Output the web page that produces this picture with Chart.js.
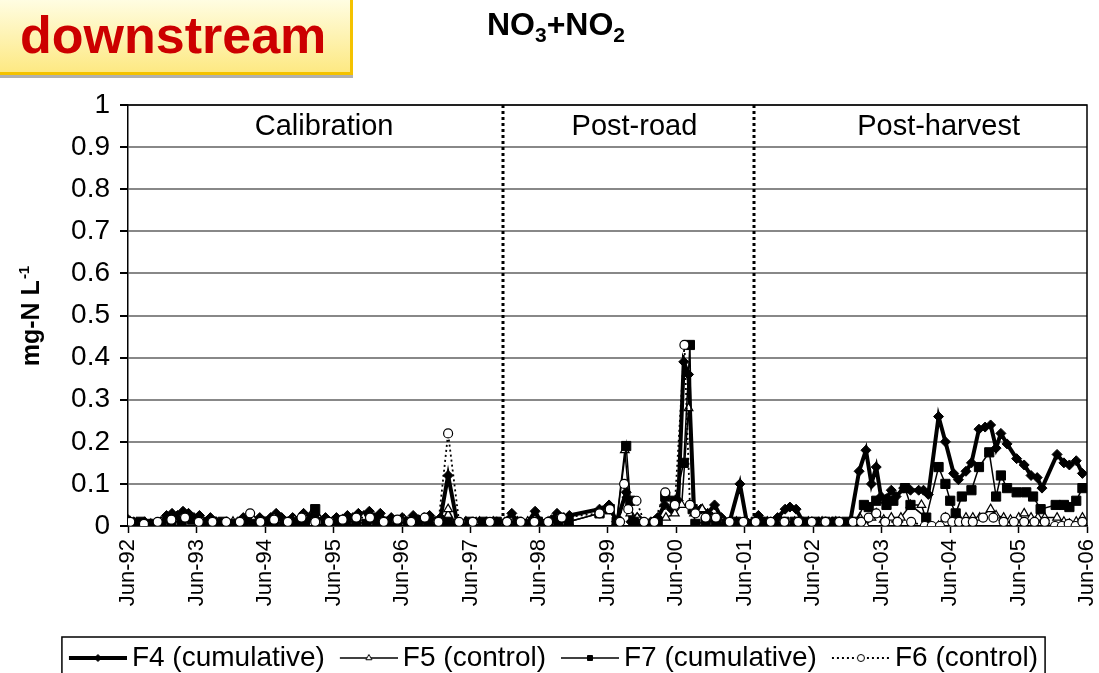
<!DOCTYPE html>
<html>
<head>
<meta charset="utf-8">
<script src="https://cdn.jsdelivr.net/npm/chart.js@4"></script>
<style>
  body { margin: 0; background: #fff; }
  #wrap { position: relative; width: 1099px; height: 673px; overflow: hidden; }
  #tag {
    position: absolute; left: 0; top: 0; width: 353px; height: 75px;
    background: linear-gradient(#fffde2, #fde983);
    border-right: 3px solid #f4c200; border-bottom: 3px solid #f4c200;
    box-shadow: 0 3px 0 #b0b0b0;
    font: bold 52px "Liberation Sans", Arial, sans-serif; color: #cc0000;
    line-height: 70px; padding-left: 20px; box-sizing: border-box;
  }
</style>
</head>
<body>
<div id="wrap">
  <canvas id="chart" width="1099" height="673"></canvas>
  <div id="tag">downstream</div>
</div>
<script>
  const FONT = "'Liberation Sans', Arial, sans-serif";

  // x is decimal year; ticks every June
  const xMin = 1992.417, xMax = 2006.417;
  const tickLabels = ['Jun-92','Jun-93','Jun-94','Jun-95','Jun-96','Jun-97','Jun-98',
                      'Jun-99','Jun-00','Jun-01','Jun-02','Jun-03','Jun-04','Jun-05','Jun-06'];
  const tickYears = tickLabels.map((_, i) => xMin + i);

  const periodBreaks = [1997.89, 2001.56];
  const periodNames = ['Calibration', 'Post-road', 'Post-harvest'];
  const periodLabelAt = [1995.28, 1999.81, 2004.25];

  const seriesNames = ['F4 (cumulative)', 'F5 (control)', 'F7 (cumulative)', 'F6 (control)'];

  const f4 = [
    [1992.42,0.015],[1992.50,0.01],[1992.58,0.005],[1992.66,0.01],[1992.74,0.005],[1992.82,0.005],[1992.90,0.01],
    [1992.98,0.025],[1993.06,0.03],[1993.14,0.025],[1993.22,0.035],[1993.30,0.03],[1993.38,0.02],[1993.46,0.025],
    [1993.54,0.01],[1993.62,0.02],[1993.70,0.01],[1993.78,0.005],[1993.86,0.01],[1993.94,0.005],[1994.02,0.01],
    [1994.10,0.02],[1994.18,0.015],[1994.26,0.01],[1994.34,0.02],[1994.42,0.01],[1994.50,0.02],[1994.58,0.03],
    [1994.66,0.02],[1994.74,0.01],[1994.82,0.02],[1994.90,0.01],[1994.98,0.03],[1995.06,0.02],[1995.14,0.025],
    [1995.22,0.01],[1995.30,0.02],[1995.38,0.005],[1995.46,0.02],[1995.54,0.01],[1995.62,0.025],[1995.70,0.02],
    [1995.78,0.03],[1995.86,0.025],[1995.94,0.035],[1996.02,0.02],[1996.10,0.03],[1996.18,0.01],[1996.26,0.02],
    [1996.34,0.01],[1996.42,0.02],[1996.50,0.01],[1996.58,0.025],[1996.66,0.015],[1996.74,0.02],[1996.82,0.025],
    [1996.90,0.01],[1996.98,0.02],[1997.09,0.12],[1997.22,0.01],[1997.35,0.01],[1997.50,0.01],[1997.65,0.01],
    [1997.80,0.01],
    [1997.92,0.01],[1998.02,0.03],[1998.10,0.01],[1998.18,0.005],[1998.26,0.01],[1998.36,0.035],[1998.44,0.01],
    [1998.52,0.005],[1998.60,0.015],[1998.68,0.03],[1998.78,0.02],[1998.86,0.025],[1999.30,0.04],[1999.44,0.05],
    [1999.55,0.01],[1999.69,0.08],[1999.76,0.01],[1999.85,0.02],[1999.95,0.005],[2000.05,0.01],[2000.15,0.02],
    [2000.25,0.05],[2000.35,0.04],[2000.45,0.06],[2000.53,0.39],[2000.60,0.36],[2000.68,0.04],[2000.78,0.04],
    [2000.88,0.03],[2000.98,0.05],[2001.08,0.02],[2001.20,0.01],[2001.35,0.10],[2001.45,0.01],[2001.55,0.01],
    [2001.62,0.025],[2001.70,0.01],[2001.80,0.01],[2001.90,0.02],[2002.01,0.04],[2002.08,0.045],[2002.17,0.04],
    [2002.27,0.01],[2002.40,0.01],[2002.50,0.01],[2002.60,0.01],[2002.70,0.01],[2002.80,0.01],[2002.96,0.01],
    [2003.09,0.13],[2003.19,0.18],[2003.27,0.10],[2003.34,0.14],[2003.41,0.07],[2003.49,0.065],[2003.56,0.085],
    [2003.63,0.07],[2003.74,0.09],[2003.84,0.085],[2003.96,0.085],[2004.03,0.085],[2004.10,0.075],[2004.25,0.26],
    [2004.35,0.20],[2004.47,0.125],[2004.54,0.11],[2004.65,0.13],[2004.73,0.15],[2004.84,0.23],[2004.93,0.235],
    [2005.01,0.24],[2005.09,0.185],[2005.16,0.22],[2005.25,0.195],[2005.39,0.16],[2005.50,0.145],[2005.60,0.12],
    [2005.69,0.115],[2005.76,0.09],[2005.98,0.17],[2006.08,0.15],[2006.16,0.145],[2006.26,0.155],[2006.35,0.125]
  ];

  const f5 = [
    [1992.45,0.01],[1992.60,0.005],[1992.75,0.005],[1992.90,0.01],[1993.05,0.015],[1993.20,0.02],[1993.35,0.015],
    [1993.50,0.01],[1993.65,0.01],[1993.80,0.005],[1993.95,0.01],[1994.10,0.01],[1994.25,0.015],[1994.40,0.01],
    [1994.55,0.02],[1994.70,0.01],[1994.85,0.015],[1995.00,0.02],[1995.12,0.035],[1995.25,0.01],[1995.40,0.01],
    [1995.55,0.015],[1995.70,0.01],[1995.85,0.02],[1996.00,0.015],[1996.15,0.01],[1996.30,0.01],[1996.45,0.015],
    [1996.60,0.01],[1996.75,0.015],[1996.90,0.01],[1997.00,0.01],[1997.09,0.04],[1997.20,0.005],[1997.35,0.01],
    [1997.55,0.01],[1997.75,0.01],
    [1997.95,0.01],[1998.10,0.01],[1998.25,0.01],[1998.40,0.005],[1998.55,0.01],[1998.70,0.02],[1998.85,0.01],
    [1999.30,0.03],[1999.45,0.035],[1999.55,0.01],[1999.67,0.18],[1999.75,0.03],[1999.85,0.02],[1999.95,0.0],
    [2000.10,0.01],[2000.27,0.02],[2000.40,0.03],[2000.50,0.05],[2000.60,0.28],[2000.68,0.03],[2000.80,0.04],
    [2000.95,0.02],[2001.10,0.01],[2001.30,0.01],[2001.45,0.01],[2001.60,0.01],
    [2001.75,0.01],[2001.95,0.01],[2002.15,0.01],[2002.35,0.01],[2002.55,0.01],[2002.75,0.01],[2002.95,0.01],
    [2003.10,0.02],[2003.19,0.0],[2003.27,0.02],[2003.34,0.03],[2003.45,0.015],[2003.56,0.02],[2003.70,0.02],
    [2003.84,0.05],[2004.00,0.05],[2004.10,0.0],[2004.25,0.0],[2004.35,0.02],[2004.47,0.02],[2004.56,0.015],
    [2004.65,0.02],[2004.75,0.02],[2004.85,0.02],[2005.01,0.04],[2005.09,0.025],[2005.20,0.02],[2005.30,0.015],
    [2005.42,0.02],[2005.50,0.03],[2005.60,0.02],[2005.70,0.02],[2005.80,0.02],[2005.98,0.02],[2006.08,0.01],
    [2006.16,0.005],[2006.26,0.01],[2006.35,0.02]
  ];

  const f7 = [
    [1992.45,0.005],[1992.60,0.01],[1992.75,0.005],[1992.90,0.005],[1993.05,0.01],[1993.20,0.01],[1993.35,0.015],
    [1993.50,0.005],[1993.65,0.01],[1993.80,0.01],[1993.95,0.005],[1994.10,0.01],[1994.25,0.005],[1994.40,0.01],
    [1994.55,0.01],[1994.70,0.005],[1994.85,0.01],[1995.00,0.01],[1995.15,0.04],[1995.30,0.01],[1995.45,0.005],
    [1995.60,0.01],[1995.75,0.01],[1995.90,0.005],[1996.05,0.01],[1996.20,0.01],[1996.35,0.005],[1996.50,0.01],
    [1996.65,0.01],[1996.80,0.005],[1996.95,0.01],[1997.09,0.01],[1997.20,0.0],[1997.40,0.01],[1997.60,0.01],
    [1997.80,0.01],
    [1997.95,0.005],[1998.10,0.01],[1998.25,0.005],[1998.40,0.01],[1998.55,0.005],[1998.70,0.01],[1998.85,0.01],
    [1999.30,0.03],[1999.45,0.04],[1999.55,0.01],[1999.69,0.19],[1999.75,0.06],[1999.80,0.01],[1999.90,0.005],
    [2000.00,0.0],[2000.15,0.01],[2000.26,0.07],[2000.40,0.06],[2000.53,0.15],[2000.62,0.43],[2000.66,0.04],
    [2000.70,0.005],[2000.85,0.01],[2001.00,0.01],[2001.15,0.005],[2001.30,0.01],[2001.45,0.005],[2001.58,0.01],
    [2001.70,0.01],[2001.85,0.005],[2002.00,0.01],[2002.15,0.01],[2002.30,0.01],[2002.45,0.01],[2002.60,0.01],
    [2002.75,0.01],[2002.90,0.01],[2003.05,0.01],[2003.16,0.05],[2003.23,0.045],[2003.34,0.06],[2003.49,0.05],
    [2003.59,0.06],[2003.76,0.09],[2003.84,0.05],[2004.07,0.02],[2004.25,0.14],[2004.35,0.10],[2004.42,0.06],
    [2004.50,0.03],[2004.59,0.07],[2004.73,0.085],[2004.84,0.14],[2004.99,0.175],[2005.09,0.07],[2005.16,0.12],
    [2005.25,0.09],[2005.39,0.08],[2005.53,0.08],[2005.63,0.07],[2005.74,0.04],[2005.96,0.05],[2006.08,0.05],
    [2006.16,0.045],[2006.26,0.06],[2006.35,0.09]
  ];

  const f6 = [
    [1992.45,0.01],[1992.65,0.005],[1992.85,0.01],[1993.05,0.015],[1993.25,0.02],[1993.45,0.01],[1993.65,0.01],
    [1993.85,0.01],[1994.05,0.01],[1994.20,0.03],[1994.35,0.01],[1994.55,0.015],[1994.75,0.01],[1994.95,0.02],
    [1995.15,0.01],[1995.35,0.01],[1995.55,0.015],[1995.75,0.02],[1995.95,0.02],[1996.15,0.01],[1996.35,0.015],
    [1996.55,0.01],[1996.75,0.02],[1996.95,0.01],[1997.09,0.22],[1997.25,0.01],[1997.45,0.01],[1997.70,0.01],
    [1997.95,0.01],[1998.15,0.01],[1998.35,0.01],[1998.55,0.01],[1998.75,0.02],[1999.30,0.03],[1999.45,0.04],
    [1999.60,0.01],[1999.66,0.10],[1999.72,0.04],[1999.84,0.06],[1999.95,0.01],[2000.10,0.01],[2000.26,0.08],
    [2000.40,0.05],[2000.54,0.43],[2000.62,0.05],[2000.70,0.03],[2000.85,0.02],[2001.00,0.02],[2001.20,0.01],
    [2001.40,0.01],[2001.58,0.01],
    [2001.80,0.01],[2002.00,0.01],[2002.20,0.01],[2002.40,0.01],[2002.60,0.01],[2002.80,0.01],[2003.00,0.01],
    [2003.12,0.01],[2003.23,0.02],[2003.34,0.03],[2003.47,0.01],[2003.65,0.01],[2003.85,0.01],[2004.05,0.0],
    [2004.15,0.0],[2004.27,0.0],[2004.35,0.02],[2004.45,0.01],[2004.55,0.01],[2004.65,0.01],[2004.75,0.01],
    [2004.90,0.02],[2005.05,0.02],[2005.20,0.01],[2005.35,0.01],[2005.50,0.01],[2005.65,0.01],[2005.80,0.01],
    [2005.95,0.0],[2006.05,0.0],[2006.15,0.005],[2006.25,0.0],[2006.35,0.01]
  ];

  const toXY = arr => arr.map(p => ({ x: p[0], y: p[1] }));

  // small canvas used as the legend symbol: line + marker
  function legendSample(ds) {
    const c = document.createElement('canvas');
    c.width = 72; c.height = 20;
    const g = c.getContext('2d');
    g.strokeStyle = '#000';
    g.lineWidth = ds.borderWidth;
    g.setLineDash(ds.borderDash || []);
    g.beginPath(); g.moveTo(14, 10); g.lineTo(72, 10); g.stroke();
    g.setLineDash([]);
    g.fillStyle = ds.pointBackgroundColor;
    g.strokeStyle = '#000';
    g.lineWidth = 1;
    Chart.helpers.drawPoint(g, { pointStyle: ds.pointStyle, radius: 3.5, borderWidth: 1, rotation: 0 }, 43, 10);
    return c;
  }

  const overlay = {
    id: 'overlay',
    beforeDatasetsDraw(chart) {
      const { ctx, chartArea: a, scales: { x } } = chart;
      ctx.save();
      ctx.strokeStyle = '#000';
      ctx.lineWidth = 3;
      ctx.setLineDash([3, 3]);
      periodBreaks.forEach(t => {
        const px = Math.round(x.getPixelForValue(t));
        ctx.beginPath(); ctx.moveTo(px, a.top); ctx.lineTo(px, a.bottom); ctx.stroke();
      });
      ctx.setLineDash([]);
      ctx.lineWidth = 1.5;
      ctx.beginPath();
      ctx.moveTo(a.left, a.top); ctx.lineTo(a.right, a.top); ctx.lineTo(a.right, a.bottom);
      ctx.stroke();
      ctx.fillStyle = '#000';
      ctx.font = '29px ' + FONT;
      ctx.textAlign = 'center';
      ctx.textBaseline = 'middle';
      periodNames.forEach((n, i) => ctx.fillText(n, x.getPixelForValue(periodLabelAt[i]), a.top + 22));
      ctx.restore();
    },
    afterDraw(chart) {
      const ctx = chart.ctx;
      ctx.save();
      ctx.fillStyle = '#000';
      ctx.textBaseline = 'alphabetic';
      ctx.textAlign = 'left';

      // title NO3+NO2 with subscripts
      const big = 'bold 32px ' + FONT, small = 'bold 21px ' + FONT;
      const parts = [['NO', big, 0], ['3', small, 7], ['+NO', big, 0], ['2', small, 7]];
      let total = 0;
      parts.forEach(p => { ctx.font = p[1]; total += ctx.measureText(p[0]).width; });
      let cx = 556 - total / 2;
      parts.forEach(p => { ctx.font = p[1]; ctx.fillText(p[0], cx, 35 + p[2]); cx += ctx.measureText(p[0]).width; });

      // y axis title, rotated
      ctx.translate(39, 316);
      ctx.rotate(-Math.PI / 2);
      const mainFont = 'bold 25px ' + FONT, supFont = 'bold 15px ' + FONT;
      ctx.font = mainFont; const w1 = ctx.measureText('mg-N L').width;
      ctx.font = supFont; const w2 = ctx.measureText('-1').width;
      let sx = -(w1 + w2 + 1) / 2;
      ctx.font = mainFont; ctx.fillText('mg-N L', sx, 0);
      ctx.font = supFont; ctx.fillText('-1', sx + w1 + 1, -10);
      ctx.setTransform(1, 0, 0, 1, 0, 0);

      // legend frame
      const boxes = chart.legend.legendHitBoxes;
      if (boxes && boxes.length) {
        const first = boxes[0], last = boxes[boxes.length - 1];
        const l = first.left - 2, r = last.left + last.width + 7, t = first.top - 7;
        ctx.strokeStyle = '#000';
        ctx.lineWidth = 1.5;
        ctx.beginPath();
        ctx.moveTo(l, chart.height + 5); ctx.lineTo(l, t); ctx.lineTo(r, t); ctx.lineTo(r, chart.height + 5);
        ctx.stroke();
      }
      ctx.restore();
    }
  };

  const datasets = [
    { label: seriesNames[0], data: toXY(f4), borderColor: '#000', borderWidth: 4, pointStyle: 'rectRot',
      pointRadius: 5, pointBackgroundColor: '#000', pointBorderColor: '#000', pointBorderWidth: 1, order: 4 },
    { label: seriesNames[1], data: toXY(f5), borderColor: '#000', borderWidth: 1.5, pointStyle: 'triangle',
      pointRadius: 5, pointBackgroundColor: '#fff', pointBorderColor: '#000', pointBorderWidth: 1.2, order: 3 },
    { label: seriesNames[2], data: toXY(f7), borderColor: '#000', borderWidth: 1.5, pointStyle: 'rect',
      pointRadius: 6.5, pointBackgroundColor: '#000', pointBorderColor: '#000', pointBorderWidth: 1, order: 2 },
    { label: seriesNames[3], data: toXY(f6), borderColor: '#000', borderWidth: 1.8, borderDash: [2, 3],
      pointStyle: 'circle', pointRadius: 4.5, pointBackgroundColor: '#fff', pointBorderColor: '#000',
      pointBorderWidth: 1.2, order: 1 }
  ];

  new Chart(document.getElementById('chart'), {
    type: 'line',
    data: { datasets: datasets },
    options: {
      responsive: false,
      animation: false,
      layout: { padding: { left: 15, right: 12, top: 105, bottom: -9 } },
      scales: {
        x: {
          type: 'linear', min: xMin, max: xMax,
          afterBuildTicks: s => { s.ticks = tickYears.map(v => ({ value: v })); },
          afterFit: s => { s.height = 108; s.paddingLeft = 0; s.paddingRight = 0; },
          grid: { drawOnChartArea: false, drawTicks: true, tickLength: 7, tickColor: '#000', tickWidth: 1.5 },
          border: { color: '#000', width: 1.5 },
          ticks: {
            autoSkip: false, minRotation: 90, maxRotation: 90, padding: 6, color: '#000',
            font: { size: 22, family: FONT },
            callback: v => tickLabels[Math.round(v - xMin)]
          }
        },
        y: {
          min: 0, max: 1,
          afterFit: s => { s.width = 113; s.paddingTop = 0; s.paddingBottom = 0; },
          grid: { color: '#888', lineWidth: 2, tickColor: '#000', tickLength: 8 },
          border: { color: '#000', width: 1.5 },
          ticks: {
            stepSize: 0.1, color: '#000', padding: 10, font: { size: 28, family: FONT },
            callback: v => String(Math.round(v * 10) / 10)
          }
        }
      },
      plugins: {
        legend: {
          position: 'bottom',
          labels: {
            color: '#000', font: { size: 28, family: FONT }, usePointStyle: true, pointStyleWidth: 54, padding: 10,
            generateLabels: chart => chart.data.datasets.map((ds, i) => ({
              text: ds.label, pointStyle: legendSample(ds), fillStyle: 'transparent',
              strokeStyle: 'transparent', lineWidth: 0, hidden: false, datasetIndex: i
            }))
          }
        },
        tooltip: { enabled: false }
      }
    },
    plugins: [overlay]
  });
</script>
</body>
</html>
